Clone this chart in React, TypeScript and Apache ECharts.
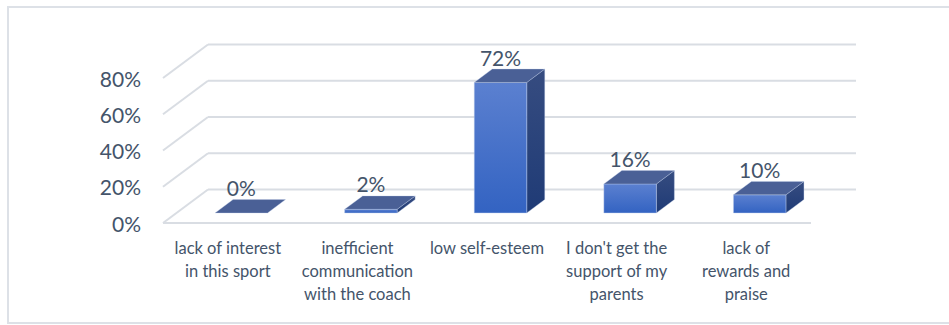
import React, { useEffect, useRef } from "react";
import * as echarts from "echarts";

const categories = [
  "lack of interest\nin this sport",
  "inefficient\ncommunication\nwith the coach",
  "low self-esteem",
  "I don't get the\nsupport of my\nparents",
  "lack of\nrewards and\npraise",
];
const values = [0, 2, 72, 16, 10];
const yTicks = [0, 20, 40, 60, 80];

const DEPTH_X = 45;
const DEPTH_Y = -33.5;
const T0 = 0.3;
const T1 = 0.7;
const BAR_RATIO = 0.405;
const TEXT = "#44546A";
const GRID_COLOR = "#d9dde3";
const FONT = "Lato, 'Open Sans', sans-serif";

export default function App() {
  const ref = useRef<HTMLDivElement>(null);
  useEffect(() => {
    document.body.style.margin = "0";
    const chart = echarts.init(ref.current!, null, { renderer: "svg" });
    const option: any = {
      animation: false,
      backgroundColor: "#ffffff",
      grid: {
        left: 163,
        top: 78,
        width: 648,
        height: 145,
        containLabel: false,
        outerBoundsMode: "none",
      },
      graphic: [
        {
          type: "rect",
          shape: { x: 8, y: 7, width: 1000, height: 316 },
          style: { fill: "none", stroke: "#dde1e7", lineWidth: 2 },
          silent: true,
        },
      ],
      xAxis: {
        type: "category",
        data: categories,
        axisLine: { show: false },
        axisTick: { show: false },
        splitLine: { show: false },
        axisLabel: {
          interval: 0,
          margin: 13,
          color: TEXT,
          fontFamily: FONT,
          fontSize: 16.5,
          lineHeight: 23,
          align: "center",
        },
      },
      yAxis: {
        type: "value",
        min: 0,
        max: 80,
        interval: 20,
        axisLine: { show: false },
        axisTick: { show: false },
        splitLine: { show: false },
        axisLabel: {
          margin: 22,
          color: TEXT,
          fontFamily: FONT,
          fontSize: 21,
          formatter: "{value}%",
        },
      },
      series: [
        {
          type: "custom",
          clip: false,
          silent: true,
          z: 1,
          data: yTicks.map((t) => [0, t]),
          encode: { x: 0, y: 1 },
          renderItem: (params: any, api: any) => {
            const v = api.value(1);
            const cs = params.coordSys;
            const y = api.coord([0, v])[1];
            const fx = cs.x;
            const children: any[] = [
              {
                type: "line",
                shape: { x1: fx, y1: y, x2: fx + DEPTH_X, y2: y + DEPTH_Y },
                style: { stroke: GRID_COLOR, lineWidth: 2 },
              },
              {
                type: "line",
                shape: {
                  x1: fx + DEPTH_X,
                  y1: y + DEPTH_Y,
                  x2: fx + cs.width + DEPTH_X,
                  y2: y + DEPTH_Y,
                },
                style: { stroke: GRID_COLOR, lineWidth: 2 },
              },
            ];
            if (v === 0) {
              children.push({
                type: "line",
                shape: { x1: fx, y1: y, x2: fx + cs.width, y2: y },
                style: { stroke: GRID_COLOR, lineWidth: 2 },
              });
            }
            return { type: "group", children };
          },
        },
        {
          type: "custom",
          clip: false,
          silent: true,
          z: 2,
          data: values.map((v, i) => [i, v]),
          encode: { x: 0, y: 1 },
          renderItem: (params: any, api: any) => {
            const idx = api.value(0);
            const v = api.value(1);
            const top = api.coord([idx, v]);
            const base = api.coord([idx, 0]);
            const band = api.size([1, 0])[0];
            const w = band * BAR_RATIO;
            const ox = DEPTH_X * T0;
            const oy = DEPTH_Y * T0;
            const dx = DEPTH_X * (T1 - T0);
            const dy = DEPTH_Y * (T1 - T0);
            const x0 = top[0] + ox - w / 2;
            const x1 = x0 + w;
            const yT = top[1] + oy;
            const yB = base[1] + oy;
            const h = yB - yT;
            const edge = "rgba(190,205,235,0.55)";
            const children: any[] = [];
            if (h > 0.1) {
              children.push({
                type: "polygon",
                shape: {
                  points: [
                    [x1, yT],
                    [x1 + dx, yT + dy],
                    [x1 + dx, yB + dy],
                    [x1, yB],
                  ],
                },
                style: {
                  fill: new echarts.graphic.LinearGradient(0, 0, 0, 1, [
                    { offset: 0, color: "#364c80" },
                    { offset: 1, color: "#1f3b76" },
                  ]),
                  stroke: edge,
                  lineWidth: 0.6,
                },
              });
              children.push({
                type: "rect",
                shape: { x: x0, y: yT, width: w, height: h },
                style: {
                  fill: new echarts.graphic.LinearGradient(0, 0, 0, 1, [
                    { offset: 0, color: "#5b80d0" },
                    { offset: 1, color: "#3363c2" },
                  ]),
                  stroke: edge,
                  lineWidth: 0.8,
                },
              });
            }
            children.push({
              type: "polygon",
              shape: {
                points: [
                  [x0, yT],
                  [x1, yT],
                  [x1 + dx, yT + dy],
                  [x0 + dx, yT + dy],
                ],
              },
              style: { fill: "#4a6096", stroke: edge, lineWidth: 0.6 },
            });
            children.push({
              type: "text",
              style: {
                text: v + "%",
                x: (x0 + x1) / 2,
                y: yT + dy - 12,
                align: "center",
                verticalAlign: "middle",
                fill: TEXT,
                font: `21px ${FONT}`,
              },
            });
            return { type: "group", children };
          },
        },
      ],
    };
    chart.setOption(option);
    return () => chart.dispose();
  }, []);
  return <div ref={ref} style={{ width: 949, height: 325 }} />;
}
